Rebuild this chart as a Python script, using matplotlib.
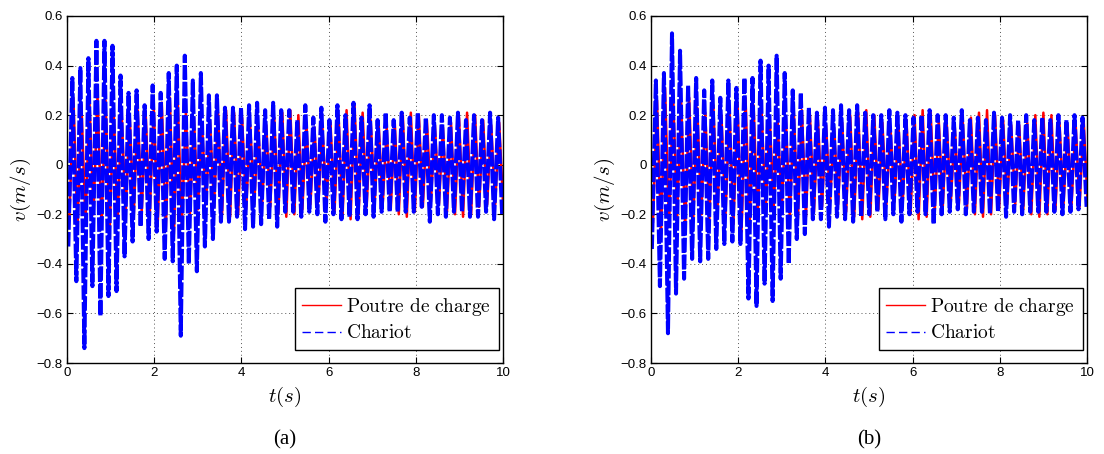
import numpy as np
import matplotlib
matplotlib.use("Agg")
import matplotlib.pyplot as plt
from matplotlib.lines import Line2D

plt.rcParams["mathtext.fontset"] = "cm"
plt.rcParams["font.family"] = ["Liberation Sans", "DejaVu Sans"]

# extrema of each oscillation cycle (m/s)
# panel (a)
chariot_a_tops = [0.35, 0.39, 0.43, 0.50, 0.50, 0.48, 0.36, 0.29, 0.30, 0.24, 0.32, 0.29, 0.37, 0.40,
                  0.44, 0.34, 0.37, 0.28, 0.28, 0.23, 0.23, 0.23, 0.24, 0.25, 0.22, 0.25, 0.22,
                  0.22, 0.18, 0.24, 0.19, 0.23, 0.18, 0.24, 0.20, 0.25, 0.19, 0.24, 0.18, 0.21, 0.18,
                  0.21, 0.19, 0.21, 0.19, 0.20, 0.20, 0.19, 0.21, 0.18, 0.20, 0.18, 0.21, 0.19]
chariot_a_bots = [-0.33, -0.47, -0.74, -0.49, -0.61, -0.53, -0.51, -0.37, -0.31, -0.25, -0.30, -0.27,
                  -0.38, -0.39, -0.69, -0.40, -0.43, -0.33, -0.30, -0.23, -0.23, -0.21, -0.26, -0.25,
                  -0.24, -0.22, -0.25, -0.19,
                  -0.19, -0.21, -0.19, -0.20, -0.23, -0.20, -0.22, -0.21, -0.22, -0.20, -0.21, -0.19,
                  -0.19, -0.19, -0.19, -0.19, -0.17, -0.23, -0.20, -0.21, -0.19, -0.19, -0.21, -0.21,
                  -0.19, -0.22, -0.20]
poutre_a_tops = [0.27, 0.24, 0.25, 0.28, 0.26, 0.23, 0.21, 0.20, 0.22, 0.20, 0.23, 0.25, 0.27, 0.24,
                 0.21, 0.19, 0.17, 0.18, 0.21, 0.22, 0.21, 0.19, 0.16, 0.15, 0.16, 0.19, 0.21,
                 0.22, 0.20, 0.17, 0.15, 0.15, 0.17, 0.20, 0.22, 0.24, 0.21, 0.18, 0.16, 0.15, 0.17,
                 0.20, 0.21, 0.20, 0.18, 0.16, 0.15, 0.17, 0.19, 0.21, 0.20, 0.18, 0.16, 0.17]
poutre_a_bots = [-0.21, -0.26, -0.23, -0.20, -0.25, -0.28, -0.23, -0.20, -0.21, -0.19, -0.20, -0.23,
                 -0.26, -0.28, -0.24, -0.20, -0.18, -0.16, -0.17, -0.20, -0.21, -0.20, -0.18, -0.16,
                 -0.15, -0.17, -0.20, -0.21, -0.20, -0.18, -0.16, -0.15, -0.16, -0.19, -0.21, -0.22,
                 -0.20, -0.17, -0.15, -0.16, -0.18, -0.20, -0.21, -0.19, -0.17, -0.15, -0.16, -0.19,
                 -0.20, -0.21, -0.20, -0.17, -0.16, -0.16, -0.17]

# panel (b)
chariot_b_tops = [0.34, 0.37, 0.53, 0.46, 0.32, 0.35, 0.30, 0.34, 0.27, 0.34, 0.31, 0.35, 0.35, 0.42,
                  0.40, 0.44, 0.37, 0.30, 0.29, 0.23, 0.21, 0.23, 0.22, 0.24, 0.22, 0.24, 0.21,
                  0.20, 0.20, 0.22, 0.21, 0.20, 0.19, 0.20, 0.22, 0.20, 0.20, 0.19, 0.22, 0.18, 0.19,
                  0.18, 0.21, 0.19, 0.20, 0.18, 0.20, 0.18, 0.19, 0.18, 0.20, 0.18, 0.20, 0.19]
chariot_b_bots = [-0.34, -0.49, -0.68, -0.52, -0.46, -0.38, -0.39, -0.38, -0.34, -0.32, -0.31, -0.32,
                  -0.54, -0.57, -0.48, -0.55, -0.46, -0.40, -0.30, -0.28, -0.22, -0.22, -0.25, -0.21,
                  -0.22, -0.23, -0.21,
                  -0.20, -0.19, -0.22, -0.20, -0.23, -0.20, -0.19, -0.20, -0.24, -0.20, -0.19, -0.18,
                  -0.20, -0.19, -0.19, -0.20, -0.19, -0.21, -0.19, -0.20, -0.19, -0.19, -0.19, -0.19,
                  -0.20, -0.19, -0.18, -0.17]
poutre_b_tops = [0.26, 0.31, 0.28, 0.25, 0.27, 0.23, 0.21, 0.24, 0.20, 0.22, 0.25, 0.27, 0.24, 0.21,
                 0.19, 0.17, 0.19, 0.21, 0.22, 0.20, 0.18, 0.16, 0.15, 0.17, 0.20, 0.21, 0.22,
                 0.20, 0.17, 0.15, 0.16, 0.18, 0.20, 0.22, 0.21, 0.18, 0.16, 0.15, 0.17, 0.19, 0.21,
                 0.22, 0.20, 0.18, 0.16, 0.16, 0.17, 0.20, 0.21, 0.20, 0.17, 0.16, 0.17, 0.18]
poutre_b_bots = [-0.23, -0.28, -0.25, -0.21, -0.26, -0.23, -0.20, -0.22, -0.19, -0.21, -0.24, -0.27,
                 -0.25, -0.22, -0.19, -0.17, -0.18, -0.21, -0.22, -0.21, -0.19, -0.17, -0.15, -0.16,
                 -0.19, -0.21, -0.22, -0.21, -0.18, -0.16, -0.15, -0.17, -0.20, -0.22, -0.21, -0.19,
                 -0.17, -0.15, -0.16, -0.18, -0.20, -0.21, -0.20, -0.18, -0.16, -0.16, -0.18, -0.20,
                 -0.21, -0.20, -0.18, -0.16, -0.16, -0.17, -0.16]

t_span_a = (0.03, 9.98)
t_span_b = (0.02, 9.99)
labels = [r"$\mathrm{Poutre\ de\ charge}$", r"$\mathrm{Chariot}$"]
captions = ["(a)", "(b)"]


def zigzag(bots, tops, span):
    vals = []
    for i in range(max(len(bots), len(tops))):
        if i < len(bots):
            vals.append(bots[i])
        if i < len(tops):
            vals.append(tops[i])
    t = np.linspace(span[0], span[1], len(vals))
    return t, np.array(vals)


fig = plt.figure(figsize=(11.04, 4.54), dpi=100)
ax_a = fig.add_axes([67 / 1104, 91 / 454, 436 / 1104, 347 / 454])
ax_b = fig.add_axes([651 / 1104, 91 / 454, 436 / 1104, 347 / 454])

panels = [
    (ax_a, poutre_a_bots, poutre_a_tops, chariot_a_bots, chariot_a_tops, t_span_a, captions[0]),
    (ax_b, poutre_b_bots, poutre_b_tops, chariot_b_bots, chariot_b_tops, t_span_b, captions[1]),
]

for ax, pb, pt, cb, ct, span, cap in panels:
    tp, vp = zigzag(pb, pt, span)
    tc, vc = zigzag(cb, ct, span)
    # poutre lags the chariot a little, so it peeks out at the sides
    ax.plot(tp + 0.025, vp, color="red", lw=1.8)
    ax.plot(tc, vc, color="blue", lw=2.9, dashes=(3.6, 0.55))

    ax.set_xlim(0, 10)
    ax.set_ylim(-0.8, 0.6)
    ax.set_xticks(np.arange(0, 11, 2))
    ax.set_yticks(np.arange(-0.8, 0.61, 0.2))
    ax.set_yticklabels(["\u22120.8", "\u22120.6", "\u22120.4", "\u22120.2", "0", "0.2", "0.4", "0.6"])
    ax.grid(True, linestyle=(0, (1, 3)), color="#555555", lw=0.7)
    ax.tick_params(direction="in", top=True, right=True, labelsize=9.5, length=4, pad=3)
    for s in ax.spines.values():
        s.set_linewidth(1.0)

    ax.set_xlabel(r"$t(s)$", fontsize=15, labelpad=4)
    ax.set_ylabel(r"$v(m/s)$", fontsize=15, labelpad=3)

    handles = [Line2D([], [], color="red", lw=1.0),
               Line2D([], [], color="blue", lw=1.0, dashes=(6, 3))]
    leg = ax.legend(handles, labels, loc="lower right", bbox_to_anchor=(0.99, 0.037),
                    borderaxespad=0, fancybox=False, framealpha=1, edgecolor="black",
                    fontsize=14, handlelength=2.0, handletextpad=0.25,
                    labelspacing=0.35, borderpad=0.4)
    leg.get_frame().set_linewidth(1.0)

    pos = ax.get_position()
    fig.text(pos.x0 + pos.width / 2, 1 - 440 / 454, cap, ha="center", va="center",
             family="Liberation Serif", fontsize=15)

fig.savefig("out.png", dpi=100)
